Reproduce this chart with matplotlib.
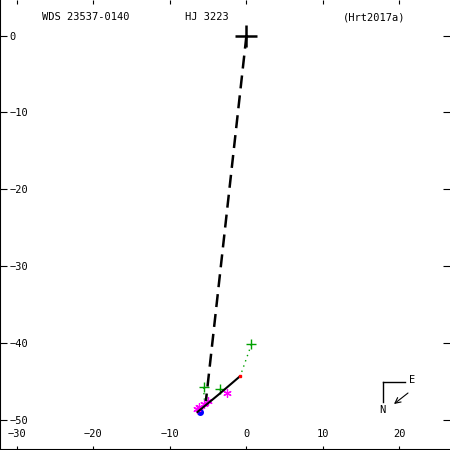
import matplotlib
matplotlib.use("Agg")
import matplotlib.pyplot as plt
from matplotlib.lines import Line2D

# ---- data ----
primary = (0.0, 0.0)
node_line_x = [0.0, -5.3]
node_line_y = [0.0, -47.6]
orbit_x = [-6.4, -3.6, -0.9]
orbit_y = [-49.0, -46.7, -44.4]
micro_x = [0.65, -5.6, -3.5]
micro_y = [-40.2, -45.8, -46.0]
micro_pred_x = [-0.8, -5.5, -3.4]
micro_pred_y = [-44.3, -47.4, -46.2]
speckle_x = [-2.6, -5.0, -5.6, -6.2, -6.4]
speckle_y = [-46.5, -47.6, -47.9, -48.3, -48.6]
interf_x = [-6.1]
interf_y = [-49.0]
xticks = [-30, -20, -10, 0, 10, 20]
yticks = [0, -10, -20, -30, -40, -50]

W = H = 450
fig = plt.figure(figsize=(4.5, 4.5), dpi=100)
ax = fig.add_axes([0, 0, 1, 1])
ax.set_xlim(-32.2, 26.6)
ax.set_ylim(-53.95, 4.65)

mono = "DejaVu Sans Mono"
fs = 7.5

ax.plot(node_line_x, node_line_y, color="black", lw=1.8, zorder=3,
        linestyle=(0, (5.2, 2.8)), solid_capstyle="butt", dash_capstyle="butt")
for x0, y0, x1, y1 in zip(micro_x, micro_y, micro_pred_x, micro_pred_y):
    ax.plot([x0, x1], [y0, y1], color="#00a000", lw=1.0, linestyle=(0, (1, 3)), zorder=2)
ax.plot(interf_x, interf_y, ls="none", marker="o", ms=4, color="#0000ff", zorder=2)
ax.plot(speckle_x, speckle_y, ls="none", marker=(6, 2, 0), ms=6, mew=0.9, color="#ff00ff", zorder=2)
ax.plot(micro_x, micro_y, ls="none", marker="+", ms=7, mew=1.0, color="#00a000", zorder=2)
ax.plot(orbit_x, orbit_y, color="black", lw=1.5, zorder=4)
ax.plot([micro_pred_x[0]], [micro_pred_y[0]], marker="s", ms=1.5, color="red", mec="red", ls="none", zorder=5)
ax.plot([primary[0]], [primary[1]], marker="+", ms=16, mew=1.8, color="black", zorder=5)

ax.set_xticks(xticks)
ax.set_yticks(yticks)
ax.set_xticklabels([str(t).replace("-", "\u2212") for t in xticks], fontfamily=mono, fontsize=fs)
ax.set_yticklabels([str(t).replace("-", "\u2212") for t in yticks], fontfamily=mono, fontsize=fs)
ax.tick_params(axis="x", direction="in", length=3, width=0.8, top=True, bottom=True, pad=-15)
ax.tick_params(axis="y", direction="in", length=5, width=0.8, left=True, right=True, pad=-7)
for lab in ax.get_yticklabels():
    lab.set_horizontalalignment("left")
for s in ["top", "right"]:
    ax.spines[s].set_visible(False)
ax.spines["left"].set_linewidth(1.5)
ax.spines["bottom"].set_linewidth(1.5)

def px(x, y):
    return x / W, 1 - y / H

fig.text(*px(86, 17), "WDS 23537-0140", ha="center", va="center", fontfamily=mono, fontsize=fs)
fig.text(*px(207, 17), "HJ 3223", ha="center", va="center", fontfamily=mono, fontsize=fs)
fig.text(*px(374, 17), "(Hrt2017a)", ha="center", va="center", fontfamily=mono, fontsize=fs)

# compass
fig.add_artist(Line2D([383/W, 405/W], [1-382/H, 1-382/H], color="black", lw=1))
fig.add_artist(Line2D([383/W, 383/W], [1-382/H, 1-402/H], color="black", lw=1))
fig.text(*px(412, 380), "E", ha="center", va="center", fontfamily=mono, fontsize=fs)
fig.text(*px(382, 410), "N", ha="center", va="center", fontfamily=mono, fontsize=fs)
ax.annotate("", xy=px(394, 404), xytext=px(408, 393), xycoords="figure fraction",
            textcoords="figure fraction",
            arrowprops=dict(arrowstyle="->", lw=0.8, color="black", shrinkA=0, shrinkB=0))

fig.savefig("out.png", dpi=100)
